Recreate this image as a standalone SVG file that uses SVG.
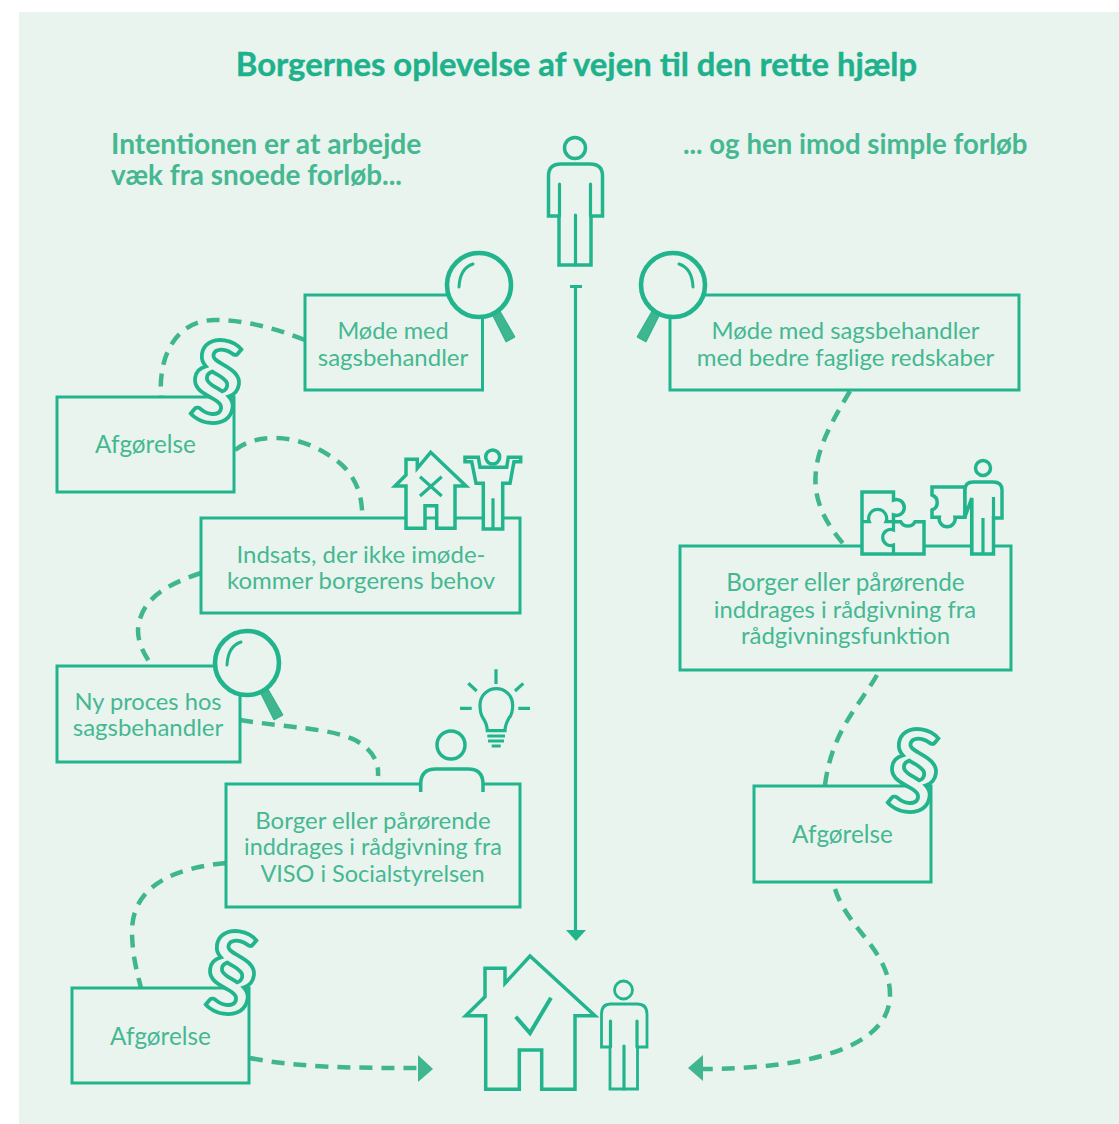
<svg xmlns="http://www.w3.org/2000/svg" width="1119" height="1124" viewBox="0 0 1119 1124">
<style>
.l{fill:none;stroke:#22b48c;stroke-width:3.2;stroke-linejoin:miter}
.i{fill:#e9f4ee;stroke:#22b48c;stroke-width:3.5;stroke-linejoin:miter}
.box{fill:#e9f4ee;stroke:#22b48c;stroke-width:3}
.c{fill:none;stroke:#3fb68f;stroke-width:4.5;stroke-dasharray:13 9}
.t{font-family:Lato,"Liberation Sans",sans-serif;font-size:24px;fill:#45b892;text-anchor:middle}
.h{font-family:Lato,"Liberation Sans",sans-serif;font-size:28.2px;font-weight:700;fill:#45b892}
.s{font-family:Lato,"Liberation Sans",sans-serif;font-size:106px;font-weight:700;fill:#e9f4ee;stroke:#22b48c;stroke-width:3.8;text-anchor:middle}
</style>
<defs>
<g id="mag">
<path d="M13 29L21 26L36 52L27 57Z" fill="#3fb68f" stroke="#22b48c" stroke-width="1"/>
<circle r="32" fill="#e9f4ee" stroke="#22b48c" stroke-width="4.6"/>
<path d="M-6 -21Q-19 -17-20 2" fill="none" stroke="#22b48c" stroke-width="3" stroke-linecap="round"/>
</g>
</defs>
<rect id="panel" x="19" y="12" width="1100" height="1112" fill="#e9f4ee"/>
<text x="576.5" y="76" style="font-family:Lato,'Liberation Sans',sans-serif;font-size:32.8px;font-weight:700;fill:#1eb18b;stroke:#1eb18b;stroke-width:.4;text-anchor:middle">Borgernes oplevelse af vejen til den rette hjælp</text>
<text class="h" x="111" y="154">Intentionen er at arbejde</text>
<text class="h" x="111" y="185" font-size="27.9" style="font-size:27.9px">væk fra snoede forløb...</text>
<text class="h" x="683" y="154" style="font-size:27.6px">... og hen imod simple forløb</text>

<g id="connectors">
<path class="c" d="M305 340C270 326 240 320 215 320C180 320 158 350 161 397"/>
<path class="c" d="M235 450C245 442 258 438 275 438C300 438 325 450 342 465C358 480 363 500 362 518"/>
<path class="c" d="M201 573C165 585 140 600 138 630C138 645 145 655 152 666"/>
<path class="c" d="M240 720C290 728 330 728 355 740C373 750 379 762 378 776"/>
<path class="c" d="M226 863C175 868 133 885 132 930C132 955 137 972 141 988"/>
<path class="c" d="M250 1058C300 1068 360 1068 418 1068"/>
<path class="c" d="M850 391C830 425 812 455 816 490C820 515 832 530 845 546"/>
<path class="c" d="M877 675C860 705 832 730 825 785"/>
<path class="c" d="M835 889C848 930 890 950 890 995C890 1050 800 1069 703 1069"/>
<path d="M418 1055L433 1069L418 1082Z" fill="#3fb68f"/>
<path d="M703 1055L688 1068L703 1081Z" fill="#3fb68f"/>
<path class="l" d="M575.5 287V932M570 286.500H582"/>
<path d="M566 930H586L576 941Z" fill="#22b48c"/>
</g>

<g id="start-person">
<circle cx="575" cy="148" r="10.500" class="i"/>
<path class="i" d="M559 216H548.500V176Q548.500 164 561 164H590Q602.500 164 602.500 176V216H591V265H559Z"/>
<path class="l" stroke-linecap="round" d="M559.500 184V216M590.500 184V216M575.500 215V265"/>
</g>

<g id="n1"><rect class="box" x="305" y="295" width="177.500" height="95"/>
<text class="t" x="393" y="339" style="font-size:23.5px">Møde med</text><text class="t" x="393" y="366">sagsbehandler</text>
<use href="#mag" x="479" y="285"/></g>

<g id="n2"><rect class="box" x="57" y="397" width="177" height="95"/>
<text class="t" x="145.500" y="453" style="font-size:24.300px">Afgørelse</text>
<text class="s" x="217" y="417" transform="rotate(8 216 380)">§</text></g>

<g id="n3"><rect class="box" x="201" y="518" width="319" height="95"/>
<text class="t" x="361" y="563">Indsats, der ikke imøde-</text><text class="t" x="361" y="589">kommer borgerens behov</text>
<path class="i" d="M395 486L406 475V459.300H417.300V468.300L430.700 452.300L466 486H455V528.300H436.700V505.700H425V528.300H406V486Z"/>
<path class="l" d="M420 496L441.700 476.700M420 476.700L441.700 496"/>
<path class="i" d="M465 457.300H478.300L480 467.300H506.700L508.300 457.300H520.700V461.700H514L510 483.300H502.700V529H483.300V483.300H476L471.700 461.700H465Z"/>
<circle cx="492.700" cy="457" r="7" class="i"/>
<path class="l" d="M493 498.300V529"/></g>

<g id="n4"><rect class="box" x="57" y="666" width="183" height="96"/>
<text class="t" x="148" y="710" style="font-size:23.700px">Ny proces hos</text><text class="t" x="148" y="736">sagsbehandler</text>
<use href="#mag" x="247" y="663"/></g>

<g id="n5"><rect class="box" x="226" y="784" width="294" height="123"/>
<text class="t" x="373" y="829">Borger eller pårørende</text><text class="t" x="373" y="855" style="font-size:23.400px">inddrages i rådgivning fra</text><text class="t" x="372.500" y="882" style="font-size:23.500px">VISO i Socialstyrelsen</text>
<path class="i" d="M420.700 792V784Q420.700 769 436 769H468Q483 769 483 784V792"/>
<circle cx="451" cy="745" r="14" class="i"/>
<g class="l"><path d="M487.300 730.700Q487 724 483 718Q480 714 480 705A16 16 0 0 1 512.700 705Q512.700 714 509 718Q505 725 505 730.700Z"/>
<path d="M487.300 736H505M488 741H504M491.700 746H500.700M496 669.300V684M468.300 683.300L476.700 691M523.300 683.300L515 691M460 708.300H471.700M518.300 708.300H530"/></g></g>

<g id="n6"><rect class="box" x="72" y="988" width="177" height="95"/>
<text class="t" x="160.500" y="1045" style="font-size:24.300px">Afgørelse</text>
<text class="s" x="232" y="1008" transform="rotate(8 232 971)">§</text></g>

<g id="r1"><rect class="box" x="670" y="295" width="349" height="95"/>
<text class="t" x="845.500" y="339" style="font-size:23.800px">Møde med sagsbehandler</text><text class="t" x="845.500" y="366">med bedre faglige redskaber</text>
<use href="#mag" transform="translate(673 285) scale(-1 1)"/></g>

<g id="r2"><rect class="box" x="680" y="546" width="331" height="124"/>
<text class="t" x="845.500" y="591" style="font-size:24.300px">Borger eller pårørende</text><text class="t" x="845" y="618" style="font-size:23.800px">inddrages i rådgivning fra</text><text class="t" x="845.500" y="644">rådgivningsfunktion</text>
<path class="i" d="M862 492H893.500V500A8 8 0 1 1 893.500 515V521.700H900.700A8 8 0 0 0 915 521.700H924V554H862Z"/>
<path class="l" d="M862 521.700H869.300A9 9 0 1 1 886 521.700H893.500V530A8 8 0 1 0 893.500 545V554"/>
<path class="i" d="M932 487H965V517.300H955A8 8 0 1 1 939.300 517.300H932V510A8 8 0 0 0 932 495Z"/>
<path class="i" d="M965 517V490Q965 482 973 482H993Q1002 482 1002 490V518H993.500V554H971.700V498L965 517Z"/>
<circle cx="983" cy="468" r="7.500" class="i"/>
<path class="l" d="M971.700 498V554M993.500 497V518M983 518V554"/></g>

<g id="r3"><rect class="box" x="754" y="786" width="177" height="96"/>
<text class="t" x="842.500" y="843" style="font-size:24.300px">Afgørelse</text>
<text class="s" x="914" y="806" transform="rotate(8 914 770)">§</text></g>

<g id="home">
<path class="i" stroke-width="3" d="M465.700 1015.700L485 996.700V968.300H505V983.300L530 956L595 1015.700H575V1089.300H541.700V1050H519.300V1089.300H485.700V1015.700Z"/>
<path fill="none" stroke="#22b48c" stroke-width="4" d="M515.700 1016.700L530 1033L551 997.700"/>
<circle cx="623.500" cy="990" r="9" class="i" style="stroke-width:2.800"/>
<path class="i" style="stroke-width:2.800" d="M610 1047H601.500V1014Q601.500 1004 611 1004H637Q647 1004 647 1014V1047H637.500V1089H610Z"/>
<path class="l" stroke-linecap="round" d="M610.500 1021V1047M637 1021V1047M624 1046V1089"/>
</g>
</svg>
